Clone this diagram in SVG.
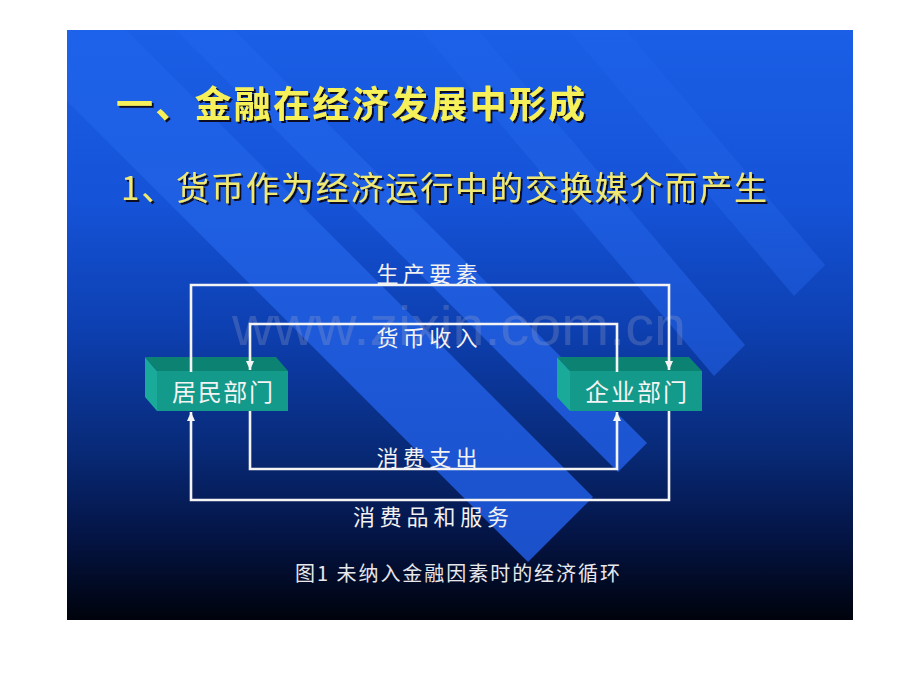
<svg xmlns="http://www.w3.org/2000/svg" width="920" height="690" viewBox="0 0 920 690">
<style>
.title{font-family:"Noto Sans CJK SC","Noto Sans",sans-serif;font-weight:700;font-size:37px;fill:#f6f05a;filter:url(#shd)}
.sub{font-family:"Noto Sans CJK SC","Noto Sans",sans-serif;font-weight:400;font-size:33px;fill:#efe873;filter:url(#shd)}
.lbl{font-family:"Noto Sans CJK SC","Noto Sans",sans-serif;font-size:22px;fill:#f2f2f2;text-anchor:middle}
.boxtxt{font-family:"Noto Sans CJK SC","Noto Sans",sans-serif;font-size:24px;fill:#f4f4f4;text-anchor:middle}
.cap{font-family:"Noto Sans CJK SC","Noto Sans",sans-serif;font-size:20px;fill:#e8e8ec}
.conn{fill:none;stroke:#f4f4f4;stroke-width:2.6;marker-end:url(#arr)}
.front{fill:#139a8a}
.top{fill:#0c8273}
.side{fill:#1aaa9a}
.band{fill:url(#bandg)}
</style>
<defs>
<filter id="shd" x="-5%" y="-20%" width="110%" height="150%">
<feDropShadow dx="2" dy="2" stdDeviation="0.6" flood-color="#0a1028" flood-opacity="1"/>
</filter>
<linearGradient id="bg" x1="0" y1="30" x2="0" y2="620" gradientUnits="userSpaceOnUse">
<stop offset="0" stop-color="#1a5fe6"/>
<stop offset="0.29" stop-color="#1553d8"/>
<stop offset="0.51" stop-color="#0d3fb0"/>
<stop offset="0.71" stop-color="#082a78"/>
<stop offset="0.86" stop-color="#041444"/>
<stop offset="1" stop-color="#00030c"/>
</linearGradient>
<linearGradient id="bandg" x1="0" y1="30" x2="0" y2="560" gradientUnits="userSpaceOnUse">
<stop offset="0" stop-color="#1d62ea"/>
<stop offset="0.35" stop-color="#1f5fe2"/>
<stop offset="1" stop-color="#1b50ca"/>
</linearGradient>
<clipPath id="slideclip"><rect x="67" y="30" width="786" height="590"/></clipPath>
<marker id="arr" viewBox="0 0 9 8" refX="9" refY="4" markerWidth="9" markerHeight="8" markerUnits="userSpaceOnUse" orient="auto">
<path d="M0,0 L9,4 L0,8 z" fill="#f4f4f4"/>
</marker>
</defs>
<rect x="0" y="0" width="920" height="690" fill="#ffffff"/>
<g id="background">
<rect x="67" y="30" width="786" height="590" fill="url(#bg)"/>
<g clip-path="url(#slideclip)">
<polygon class="band" points="48,-48 593,497 528,562 -17,17"/>
<polygon class="band" points="102,-102 647,443 618,472 73,-73"/>
<polygon class="band" points="245,-245 745,345 714,376 214,-214" opacity="0.75"/>
<polygon class="band" points="325,-325 825,265 794,296 294,-294" opacity="0.6"/>
</g>
</g>
<text x="232" y="345" font-family="Liberation Sans, Arial, sans-serif" font-size="56" fill="#a8aac8" fill-opacity="0.26" textLength="454" lengthAdjust="spacingAndGlyphs">www.zixin.com.cn</text>
<g id="title">
<text class="title" x="116" y="118" textLength="469" lengthAdjust="spacing">一、金融在经济发展中形成</text>
</g>
<g id="subtitle">
<text class="sub" x="121" y="200" textLength="646" lengthAdjust="spacing">1、货币作为经济运行中的交换媒介而产生</text>
</g>
<g id="node-jumin">
<polygon class="side" points="145,357 157,371 157,411 145,397"/>
<polygon class="top" points="145,357 276,357 288,371 157,371"/>
<rect class="front" x="157" y="371" width="131" height="40"/>
<text class="boxtxt" x="222.5" y="401" textLength="101" lengthAdjust="spacing">居民部门</text>
</g>
<g id="node-qiye">
<polygon class="side" points="557,357 570,371 570,411 557,397"/>
<polygon class="top" points="557,357 689,357 702,371 570,371"/>
<rect class="front" x="570" y="371" width="132" height="40"/>
<text class="boxtxt" x="636" y="401" textLength="102" lengthAdjust="spacing">企业部门</text>
</g>
<g id="connectors">
<path class="conn" d="M191,372 V285 H669 V370"/>
<path class="conn" d="M617,372 V324 H250 V370"/>
<path class="conn" d="M250,411 V469 H617 V412"/>
<path class="conn" d="M669,411 V500 H191 V412"/>
<text class="lbl" x="427" y="282" textLength="101" lengthAdjust="spacing">生产要素</text>
<text class="lbl" x="427" y="346" textLength="101" lengthAdjust="spacing">货币收入</text>
<text class="lbl" x="427" y="466" textLength="101" lengthAdjust="spacing">消费支出</text>
<text class="lbl" x="431" y="525" textLength="156" lengthAdjust="spacing">消费品和服务</text>
</g>
<text class="cap" x="295" y="581" textLength="325" lengthAdjust="spacing">图1 未纳入金融因素时的经济循环</text>
</svg>
